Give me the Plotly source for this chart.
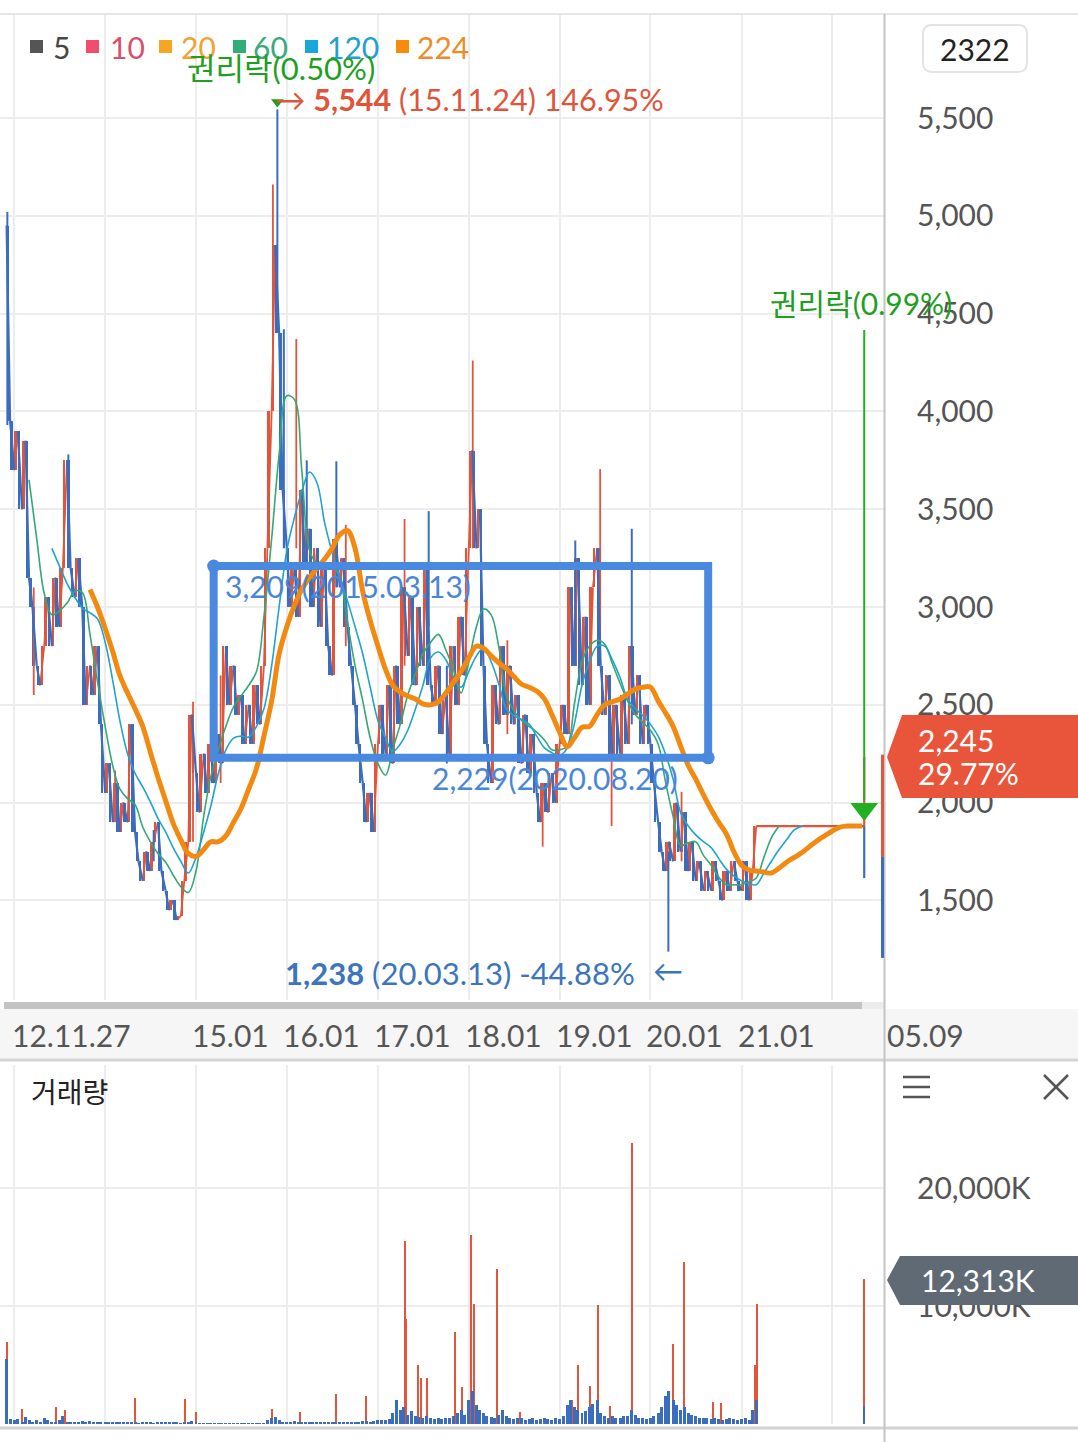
import pandas as pd
import plotly.graph_objects as go

W, H = 1078, 1442
FONT = "Lato, 'Noto Sans CJK KR', sans-serif"

# ---------------- data ----------------
price_start, price_end = "2012-12-01", "2021-03-01"   # semi-monthly samples (1st / 15th)
price = (
    [4950, 3950]
    + [3700, 3900, 3500, 3850, 3150, 3000, 2700, 2600, 2800, 3050, 2800, 3150,
       2900, 3200, 3750, 3200, 3050, 3250, 3000, 2500, 2700, 2550, 2800, 2400]
    + [2050, 2200, 1900, 2100, 1850, 2000, 1900, 2400, 1850, 1700, 1600, 1750,
       1650, 1800, 1900, 1650, 1550, 1450, 1500, 1400, 1420, 1600, 1800, 2450]
    + [2150, 1950, 2250, 2050, 2300, 2100, 2350, 2200, 2800, 2500, 2700, 2450,
       2550, 2300, 2500, 2300, 2600, 2400, 2700, 3300, 4000, 4850, 4400, 3600]
    + [3300, 3000, 3200, 2950, 3600, 3200, 3400, 3000, 3300, 2900, 3200, 2800,
       2650, 3350, 3100, 3250, 2900, 2700, 2500, 2300, 2100, 1900, 2050, 1850]
    + [2300, 2500, 2250, 2600, 2200, 2700, 2400, 3100, 2750, 3050, 2600, 3000,
       2700, 3200, 2600, 2500, 2700, 2350, 2550, 2250, 2800, 2500, 2950, 2650]
    + [3300, 3800, 3300, 3500, 2700, 2300, 2100, 2600, 2400, 2800, 2450, 2700,
       2400, 2550, 2200, 2450, 2150, 2350, 2050, 1900, 2100, 1950, 2150, 2000]
    + [2300, 2500, 2350, 3100, 2700, 3250, 2600, 2950, 2500, 3100, 3300, 2700,
       2450, 2650, 2250, 2500, 2250, 2550, 2300, 2800, 2450, 2650, 2300, 2500]
    + [2300, 2100, 1900, 1750, 1650, 1800, 1700, 2000, 1750, 1950, 1650, 1800,
       1600, 1700, 1550, 1650, 1550, 1700, 1600, 1500, 1650, 1550, 1700, 1600]
    + [1550, 1700, 1500, 1650, 1880]
)
vol_base = (  # thousands of shares, same semi-monthly dates
    [5500, 400]
    + [300, 450, 200, 600, 300, 200, 350, 150, 500, 300, 200, 150,
       300, 700, 200, 150, 100, 150, 250, 100, 250, 150, 100, 200]
    + [100, 150, 100, 200, 100, 100, 150, 100, 100, 80, 100, 150,
       100, 80, 100, 150, 100, 200, 150, 100, 80, 100, 150, 250]
    + [150, 80, 60, 50, 60, 50, 60, 50, 40, 50, 40, 50,
       50, 40, 50, 60, 50, 40, 60, 300, 500, 600, 300, 200]
    + [200, 150, 250, 150, 100, 150, 120, 100, 150, 100, 120, 100,
       150, 120, 100, 150, 120, 100, 150, 200, 250, 250, 200, 250]
    + [300, 350, 300, 450, 900, 2000, 1200, 1400, 800, 1100, 700, 600,
       550, 700, 500, 400, 500, 400, 550, 500, 650, 900, 1200, 800]
    + [2000, 2800, 1600, 1200, 900, 700, 600, 550, 800, 1200, 650, 500,
       400, 550, 500, 350, 400, 500, 350, 400, 550, 400, 350, 500]
    + [400, 700, 1600, 2000, 1400, 1200, 950, 1100, 1400, 1700, 2000, 950,
       700, 550, 650, 500, 550, 650, 700, 1200, 800, 550, 500, 400]
    + [500, 650, 950, 1400, 2400, 2800, 2000, 1600, 1200, 1400, 950, 800,
       650, 550, 500, 550, 400, 500, 400, 350, 400, 500, 400, 350]
    + [400, 500, 350, 1200, 2000]
)

wick_dates = ["2012-12-04", "2013-03-20", "2013-08-06", "2014-02-10", "2014-07-15",
              "2014-12-20", "2015-04-10", "2015-11-06", "2015-11-24", "2015-12-20",
              "2016-02-08", "2016-03-21", "2016-07-18", "2016-08-25", "2017-04-18",
              "2017-07-24", "2017-10-05", "2018-01-17", "2018-06-05", "2018-10-25",
              "2019-03-05", "2019-06-13", "2019-07-29", "2019-10-18", "2020-03-13",
              "2020-05-05"]
wick_low = [3930, 2550, 3200, 1900, 1700, 1800, 2100, 4100, 4400, 3300,
            3300, 3200, 3100, 2800, 2700, 2900, 2200, 3300, 2350, 1775,
            2700, 2800, 1880, 2400, 1238, 1700]
wick_high = [5020, 3100, 3780, 2165, 1860, 2515, 2650, 5160, 5544, 4420,
             4370, 3750, 3745, 3420, 3450, 3490, 2700, 4260, 2830, 2100,
             3340, 3705, 2300, 3400, 1750, 2055]
wick_up = [0, 1, 0, 1, 0, 1, 1, 1, 0, 0, 1, 0, 0, 1, 1, 0, 0, 1, 1, 1, 0, 1, 1, 0, 0, 1]

halt_dates = ["2021-03-01", "2022-05-09"]
halt_price = [1880, 1880]
last_date = "2022-05-09"
last_open, last_high, last_low = 1880, 2233, 1614
right_bar = [2245, 1722, 1206]     # range bar drawn at the price axis

ma60_start = "2013-03-01"
ma60 = [3650, 3350, 3070, 2960, 2980, 3020, 3080, 3075, 2860, 2620,
        2390, 2185, 2070, 2020, 1990, 1875, 1800, 1740, 1695, 1630,
        1570, 1540, 1650, 1930, 2130, 2270, 2390, 2490, 2545, 2600,
        2670, 2950, 3350, 3780, 4080, 4060, 3700, 3290, 3225, 3225,
        3210, 3150, 2920, 2700, 2520, 2330, 2200, 2140, 2270, 2400,
        2550, 2660, 2760, 2820, 2860, 2780, 2680, 2560, 2720, 2900,
        2990, 2960, 2800, 2550, 2470, 2420, 2390, 2360, 2320, 2270,
        2270, 2290, 2500, 2720, 2800, 2830, 2810, 2710, 2610, 2520,
        2450, 2410, 2370, 2300, 2110, 1930, 1780, 1795, 1800, 1730,
        1680, 1620, 1580, 1580, 1580, 1595, 1615, 1720, 1820, 1880]
ma120_start = "2013-06-01"
ma120 = [3300, 3210, 3120, 3050, 2995, 2970, 2940, 2820, 2620, 2420,
         2250, 2150, 2080, 2005, 1920, 1850, 1770, 1700, 1640, 1720,
         1850, 1980, 2150, 2270, 2330, 2340, 2335, 2390, 2480, 2700,
         3000, 3290, 3460, 3590, 3690, 3635, 3430, 3280, 3150, 3030,
         2900, 2760, 2590, 2420, 2330, 2260, 2300, 2370, 2480, 2600,
         2740, 2770, 2730, 2640, 2590, 2670, 2750, 2790, 2720, 2610,
         2480, 2445, 2425, 2400, 2340, 2280, 2255, 2240, 2280, 2400,
         2600, 2720, 2800, 2800, 2730, 2640, 2530, 2480, 2445, 2400,
         2340, 2250, 2120, 1950, 1880, 1835, 1800, 1770, 1715, 1660,
         1625, 1600, 1585, 1580, 1640, 1700, 1760, 1810, 1860, 1880]
ma224_start = "2013-11-01"
ma224 = [3090, 3000, 2890, 2770, 2650, 2560, 2480, 2390, 2260, 2130,
         2010, 1895, 1810, 1740, 1725, 1760, 1800, 1800, 1830, 1900,
         1970, 2070, 2175, 2340, 2520, 2760, 2900, 3010, 3090, 3150,
         3200, 3245, 3300, 3370, 3390, 3300, 3080, 2930, 2800, 2680,
         2600, 2565, 2545, 2530, 2505, 2500, 2515, 2560, 2615, 2670,
         2740, 2800, 2790, 2750, 2715, 2685, 2645, 2605, 2590, 2570,
         2530, 2450, 2360, 2285, 2330, 2385, 2390, 2450, 2500, 2515,
         2530, 2555, 2580, 2590, 2590, 2520, 2460, 2390, 2290, 2190,
         2120, 2040, 1965, 1900, 1840, 1750, 1680, 1655, 1650, 1645,
         1640, 1665, 1695, 1720, 1745, 1775, 1805, 1830, 1855, 1875,
         1880, 1880, 1880]

vol_spike_dates = ["2012-12-03", "2013-02-01", "2013-06-17", "2013-07-23", "2014-04-30",
                   "2014-11-17", "2015-01-02", "2015-11-05", "2016-02-22", "2016-07-16",
                   "2016-11-17", "2017-04-19", "2017-04-24", "2017-06-14", "2017-06-26",
                   "2017-07-20", "2017-11-06", "2017-12-04", "2018-01-12", "2018-01-22",
                   "2018-04-27", "2018-07-28", "2019-02-20", "2019-03-15", "2019-05-06",
                   "2019-06-07", "2019-07-25", "2019-10-18", "2020-04-01", "2020-05-15",
                   "2020-09-08", "2020-10-10", "2021-02-24", "2021-03-05", "2022-05-09"]
vol_spike_vals = [6950, 1270, 1440, 1190, 2200, 2150, 1000, 1270, 1000, 2540,
                  2370, 15500, 8900, 5000, 3900, 3900, 7800, 3150, 16000, 10200,
                  13100, 1000, 2000, 5000, 3200, 10100, 1500, 23800, 6800, 13700,
                  1870, 1800, 5000, 10200, 12313]
last_vol_blue = 1500

year_ticks = ["2013-01-01", "2014-01-01", "2015-01-01", "2016-01-01", "2017-01-01",
              "2018-01-01", "2019-01-01", "2020-01-01", "2021-01-01", "2022-01-01"]
x_labels = ["15.01", "16.01", "17.01", "18.01", "19.01", "20.01", "21.01"]
x_label_dates = ["2015-01-01", "2016-01-01", "2017-01-01", "2018-01-01",
                 "2019-01-01", "2020-01-01", "2021-01-01"]
first_label, first_date = "12.11.27", "2012-11-27"
price_ticks = [1500, 2000, 2500, 3000, 3500, 4000, 4500, 5000, 5500]
vol_ticks = [10000, 20000]

box_start, box_end, box_top, box_bottom = "2015-03-13", "2020-08-20", 3209, 2229
peak_date, peak_val = "2015-11-24", 5544
low_date, low_val = "2020-03-13", 1238

# ---------------- styling / calibration ----------------
BLUE = "#3b6dbf"
RED = "#e2553b"
C224 = "#f28a12"
C120 = "#1fa3cf"
C60 = "#35a875"
BOXC = "#4a89e0"
GREEN = "#1f9f1f"

T0 = pd.Timestamp("2015-01-01")
PX_T0, PX_YEAR = 196.0, 90.9
def t_at(xp):
    return T0 + pd.Timedelta(days=(xp - PX_T0) / PX_YEAR * 365.25)
P_Y0, P_P0, P_SCALE = 118.0, 5500.0, 0.1956
def p_at(yp):
    return P_P0 - (yp - P_Y0) / P_SCALE
def px(x):
    return x / W
def py(y):
    return 1 - y / H

dts = list(pd.date_range(price_start, price_end, freq="SMS"))
assert len(dts) == len(price) == len(vol_base), (len(dts), len(price), len(vol_base))

fig = go.Figure()
DAY = 86400000

# candle-like bodies between consecutive samples (red rising / blue falling)
cu_x, cu_b, cu_h, cd_x, cd_b, cd_h = [], [], [], [], [], []
for i in range(len(price) - 1):
    lo, hi = min(price[i], price[i + 1]), max(price[i], price[i + 1])
    if price[i + 1] >= price[i]:
        cu_x.append(dts[i]); cu_b.append(lo); cu_h.append(hi - lo)
    else:
        cd_x.append(dts[i]); cd_b.append(lo); cd_h.append(hi - lo)
fig.add_trace(go.Bar(x=cu_x, y=cu_h, base=cu_b, width=8 * DAY, offset=2 * DAY,
                     marker=dict(color=RED, line=dict(width=0)), hoverinfo="skip",
                     showlegend=False, xaxis="x", yaxis="y"))
fig.add_trace(go.Bar(x=cd_x, y=cd_h, base=cd_b, width=8 * DAY, offset=2 * DAY,
                     marker=dict(color=BLUE, line=dict(width=0)), hoverinfo="skip",
                     showlegend=False, xaxis="x", yaxis="y"))

# price zig-zag split into rising (red) and falling (blue) strokes
ux, uy, dx, dy = [], [], [], []
for i in range(len(price) - 1):
    seg_x = [dts[i], dts[i + 1], None]
    seg_y = [price[i], price[i + 1], None]
    if price[i + 1] >= price[i]:
        ux += seg_x; uy += seg_y
    else:
        dx += seg_x; dy += seg_y
wrx, wry, wbx, wby = [], [], [], []
for d, lo, hi, up in zip(wick_dates, wick_low, wick_high, wick_up):
    if up:
        wrx += [d, d, None]; wry += [lo, hi, None]
    else:
        wbx += [d, d, None]; wby += [lo, hi, None]

line_kw = dict(mode="lines", hoverinfo="skip", showlegend=False, xaxis="x", yaxis="y")
fig.add_trace(go.Scatter(x=ux, y=uy, line=dict(color=RED, width=1.8), **line_kw))
fig.add_trace(go.Scatter(x=wrx, y=wry, line=dict(color=RED, width=1.8), **line_kw))
fig.add_trace(go.Scatter(x=dx, y=dy, line=dict(color=BLUE, width=2.2), **line_kw))
fig.add_trace(go.Scatter(x=wbx, y=wby, line=dict(color=BLUE, width=2.0), **line_kw))
fig.add_trace(go.Scatter(x=halt_dates, y=halt_price, line=dict(color=RED, width=2.2), **line_kw))
fig.add_trace(go.Scatter(x=[last_date, last_date], y=[last_open, last_high],
                         line=dict(color=RED, width=2.2), **line_kw))
fig.add_trace(go.Scatter(x=[last_date, last_date], y=[last_open, last_low],
                         line=dict(color=BLUE, width=2.2), **line_kw))

# moving averages
fig.add_trace(go.Scatter(x=pd.date_range(ma60_start, periods=len(ma60), freq="MS"), y=ma60,
                         line=dict(color=C60, width=1.6, shape="spline"), **line_kw))
fig.add_trace(go.Scatter(x=pd.date_range(ma120_start, periods=len(ma120), freq="MS"), y=ma120,
                         line=dict(color=C120, width=1.6, shape="spline"), **line_kw))
fig.add_trace(go.Scatter(x=pd.date_range(ma224_start, periods=len(ma224), freq="MS"), y=ma224,
                         line=dict(color=C224, width=5, shape="spline"), **line_kw))

# box corner handles
fig.add_trace(go.Scatter(x=[box_start, box_end], y=[box_top, box_bottom], mode="markers",
                         marker=dict(color=BOXC, size=13), hoverinfo="skip", showlegend=False,
                         xaxis="x", yaxis="y"))
# 권리락 markers
fig.add_trace(go.Scatter(x=[peak_date], y=[peak_val + 38], mode="markers",
                         marker=dict(symbol="triangle-down", color=GREEN, size=11),
                         hoverinfo="skip", showlegend=False, xaxis="x", yaxis="y"))
fig.add_trace(go.Scatter(x=[last_date], y=[p_at(809)], mode="markers",
                         marker=dict(symbol="triangle-down", color="#22b022", size=24),
                         hoverinfo="skip", showlegend=False, xaxis="x", yaxis="y"))

# volume
fig.add_trace(go.Bar(x=vol_spike_dates, y=vol_spike_vals, width=6 * DAY,
                     marker=dict(color=RED, line=dict(width=0)),
                     hoverinfo="skip", showlegend=False, xaxis="x2", yaxis="y2"))
fig.add_trace(go.Bar(x=dts, y=vol_base, width=12 * DAY,
                     marker=dict(color=BLUE, line=dict(width=0)),
                     hoverinfo="skip", showlegend=False, xaxis="x2", yaxis="y2"))
fig.add_trace(go.Bar(x=[last_date], y=[last_vol_blue], width=6 * DAY,
                     marker=dict(color=BLUE, line=dict(width=0)),
                     hoverinfo="skip", showlegend=False, xaxis="x2", yaxis="y2"))

# ---------------- layout ----------------
GRID = "#ededed"
xr = [t_at(0), t_at(884)]
axis_font = dict(family=FONT, size=30, color="#555555")
fig.update_layout(
    width=W, height=H, margin=dict(l=0, r=0, t=0, b=0),
    paper_bgcolor="white", plot_bgcolor="white", barmode="overlay", bargap=0,
    showlegend=False,
    xaxis=dict(domain=[0, px(884)], range=xr, type="date", anchor="y",
               tickvals=year_ticks, showticklabels=False, ticks="",
               showgrid=True, gridcolor=GRID, gridwidth=1.5, zeroline=False, showline=False),
    yaxis=dict(domain=[py(1000), py(15)], range=[p_at(1000), p_at(15)], anchor="x",
               side="right", tickvals=price_ticks, ticktext=[f"{v:,}" for v in price_ticks],
               tickfont=axis_font, ticklabelstandoff=32, ticks="",
               showgrid=True, gridcolor=GRID, gridwidth=1.5, zeroline=False, showline=False),
    xaxis2=dict(domain=[0, px(884)], range=xr, type="date", anchor="y2", matches="x",
                tickvals=year_ticks, showticklabels=False, ticks="",
                showgrid=True, gridcolor=GRID, gridwidth=1.5, zeroline=False, showline=False),
    yaxis2=dict(domain=[py(1424), py(1065)], range=[0, (1424 - 1065) / 118 * 10000], anchor="x2",
                side="right", tickvals=vol_ticks, ticktext=[f"{v:,}K" for v in vol_ticks],
                tickfont=axis_font, ticklabelstandoff=32, ticks="",
                showgrid=True, gridcolor=GRID, gridwidth=1.5, zeroline=False, showline=False),
)

shapes = []
def pline(x0, y0, x1, y1, color, width, layer="above"):
    shapes.append(dict(type="line", xref="paper", yref="paper", x0=px(x0), y0=py(y0),
                       x1=px(x1), y1=py(y1), line=dict(color=color, width=width), layer=layer))
def prect(x0, y0, x1, y1, fill, layer="above"):
    shapes.append(dict(type="rect", xref="paper", yref="paper", x0=px(x0), y0=py(y0),
                       x1=px(x1), y1=py(y1), fillcolor=fill, line=dict(width=0), layer=layer))
def ppath(points, fill, line_color=None, lw=0):
    d = "M " + " L ".join(f"{px(x):.5f},{py(y):.5f}" for x, y in points) + " Z"
    shapes.append(dict(type="path", xref="paper", yref="paper", path=d, fillcolor=fill,
                       line=dict(color=line_color or fill, width=lw), layer="above"))

# frame lines / bands
pline(0, 14, W, 14, "#e6e6e6", 2)
prect(0, 1009, W, 1058, "#f6f6f6", layer="below")
pline(0, 1060, W, 1060, "#d4d4d4", 3)
prect(4, 1002, 862, 1009, "#c3c3c3")
prect(862, 1002, 884, 1009, "#ececec")
pline(0, 1428, W, 1428, "#d2d2d2", 3)
pline(884.5, 14, 884.5, H, "#c4c4c4", 2)

# analysis box
shapes.append(dict(type="rect", xref="x", yref="y", x0=box_start, x1=box_end,
                   y0=box_bottom, y1=box_top, line=dict(color=BOXC, width=8), layer="above"))
# 권리락 arrow line
shapes.append(dict(type="line", xref="x", yref="y", x0=last_date, x1=last_date,
                   y0=p_at(330), y1=p_at(800), line=dict(color="#22b022", width=2), layer="above"))
# range bar at axis
shapes.append(dict(type="line", xref="paper", yref="y", x0=px(882.5), x1=px(882.5),
                   y0=right_bar[0], y1=right_bar[1], line=dict(color=RED, width=3), layer="above"))
shapes.append(dict(type="line", xref="paper", yref="y", x0=px(882.5), x1=px(882.5),
                   y0=right_bar[1], y1=right_bar[2], line=dict(color=BLUE, width=3), layer="above"))

# current price tag and volume tag
ppath([(887, 757), (902, 715), (W, 715), (W, 798), (902, 798)], "#e8553a")
ppath([(887, 1280), (900, 1256), (W, 1256), (W, 1305), (900, 1305)], "#5f6a75")

# 2322 rounded box
def rrect(x0, y0, x1, y1, r):
    pts = [("M", x0 + r, y0), ("L", x1 - r, y0), ("Q", x1, y0, x1, y0 + r), ("L", x1, y1 - r),
           ("Q", x1, y1, x1 - r, y1), ("L", x0 + r, y1), ("Q", x0, y1, x0, y1 - r),
           ("L", x0, y0 + r), ("Q", x0, y0, x0 + r, y0)]
    out = []
    for p in pts:
        c = p[0]
        coords = p[1:]
        xy = " ".join(f"{px(coords[i]):.5f},{py(coords[i + 1]):.5f}" for i in range(0, len(coords), 2))
        out.append(f"{c} {xy}")
    return " ".join(out) + " Z"
shapes.append(dict(type="path", xref="paper", yref="paper", path=rrect(923, 25, 1027, 72, 9),
                   fillcolor="white", line=dict(color="#e4e4e4", width=2), layer="above"))

# legend squares
legend_items = [(30, 53, "5", "#555555", "#464646"),
                (86, 110, "10", "#f04e6c", "#d9506a"),
                (159, 181, "20", "#f5a623", "#f0a232"),
                (233, 253, "60", "#2fae78", "#3aa97f"),
                (305, 327, "120", "#17a7d9", "#22a0cf"),
                (396, 417, "224", "#f78b0c", "#ec8d27")]
for sx, _, _, sc, _ in legend_items:
    prect(sx, 40, sx + 13, 53, sc)

# menu icons in volume pane
for yy in (1077, 1087, 1097):
    pline(903, yy, 930, yy, "#555555", 2.5)
pline(1044, 1075, 1068, 1099, "#555555", 2.5)
pline(1044, 1099, 1068, 1075, "#555555", 2.5)

fig.update_layout(shapes=shapes)

ann = []
def txt(x, y, s, size=30, color="#555555", xanchor="left", xref="paper"):
    ann.append(dict(xref=xref, yref="paper", x=(px(x) if xref == "paper" else x), y=py(y),
                    text=s, showarrow=False, xanchor=xanchor, yanchor="middle",
                    font=dict(family=FONT, size=size, color=color), borderpad=0))

for _, tx, label, _, tc in legend_items:
    txt(tx - 1, 47, label, color=tc)

txt(186, 68, "권리락(0.50%)", size=31, color=GREEN)
txt(274, 99, "→ <b>5,544</b> (15.11.24) 146.95%", size=30.5, color="#e0553a")
txt(284, 973, "<b>1,238</b> (20.03.13) -44.88%", size=31, color="#3d75bd")
txt(652, 970, "←", color="#3d75bd")
txt(224, 586, "3,209(2015.03.13)", color="#4a86d8")
txt(431, 778, "2,229(2020.08.20)", color="#4a86d8")
txt(769, 303, "권리락(0.99%)", color=GREEN)
txt(975, 49, "2322", color="#222222", xanchor="center")
txt(917, 740, "2,245", color="white")
txt(917, 773, "29.77%", color="white")
txt(920, 1280, "12,313K", color="white")
txt(30, 1092, "거래량", size=28, color="#222222")

# x-axis labels
ann.append(dict(xref="paper", yref="paper", x=px(10), y=py(1035), text=first_label,
                showarrow=False, xanchor="left", yanchor="middle",
                font=dict(family=FONT, size=30, color="#555555")))
for d, lab in zip(x_label_dates, x_labels):
    ann.append(dict(xref="x", yref="paper", x=d, y=py(1035), text=lab, showarrow=False,
                    xanchor="left", yanchor="middle", xshift=-6,
                    font=dict(family=FONT, size=30, color="#555555")))
txt(886, 1035, "05.09")

fig.update_layout(annotations=ann)
fig.write_html("out.html", config={"displayModeBar": False},
               post_script="document.body.style.margin='0px';")
